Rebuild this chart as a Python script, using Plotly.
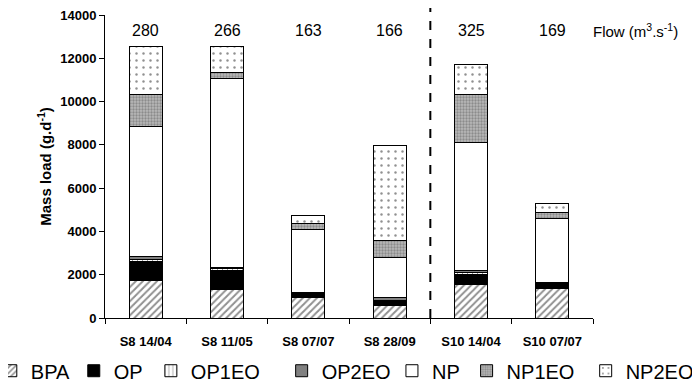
import plotly.graph_objects as go

categories = ["S8 14/04", "S8 11/05", "S8 07/07", "S8 28/09", "S10 14/04", "S10 07/07"]
BPA = [1750, 1335, 970, 575, 1545, 1350]
OP = [870, 880, 150, 170, 475, 260]
OP1EO = [80, 60, 30, 60, 100, 20]
OP2EO = [150, 60, 30, 120, 90, 20]
NP = [5990, 8720, 2900, 1880, 5915, 2965]
NP1EO = [1480, 305, 290, 775, 2200, 255]
NP2EO = [2215, 1170, 350, 4390, 1370, 430]
flow = [280, 266, 163, 166, 325, 169]
y_ticks = [0, 2000, 4000, 6000, 8000, 10000, 12000, 14000]
y_tick_labels = [str(v) for v in y_ticks]

FONT = "Liberation Sans, Arial, sans-serif"

series = [
    ("BPA", BPA, dict(color="white", pattern=dict(shape="/", fgcolor="#222222", bgcolor="white", size=5, solidity=0.4))),
    ("OP", OP, dict(color="black")),
    ("OP1EO", OP1EO, dict(color="white", pattern=dict(shape="|", fgcolor="#333333", bgcolor="white", size=5, solidity=0.2))),
    ("OP2EO", OP2EO, dict(color="#808080")),
    ("NP", NP, dict(color="white")),
    ("NP1EO", NP1EO, dict(color="#a0a0a0", pattern=dict(shape=".", fgcolor="#5e5e5e", bgcolor="#b8b8b8", size=3, solidity=0.45))),
    ("NP2EO", NP2EO, dict(color="white", pattern=dict(shape=".", fgcolor="#222222", bgcolor="white", size=7, solidity=0.1))),
]
# left edge of each legend entry, in paper fraction of the plot width
legend_x = [-0.234, -0.064, 0.094, 0.362, 0.588, 0.741, 0.985]

fig = go.Figure()
legend_layouts = {}
for i, (name, vals, mk) in enumerate(series):
    mk = dict(mk)
    mk["line"] = dict(color="black", width=1)
    lg = "legend" if i == 0 else f"legend{i + 1}"
    fig.add_trace(go.Bar(name=name, x=categories, y=vals, marker=mk, width=0.405, legend=lg))
    legend_layouts[lg] = dict(orientation="h", xref="paper", yref="paper",
                              x=legend_x[i], xanchor="left", y=-0.174, yanchor="middle",
                              font=dict(family=FONT, size=20, color="black"), itemwidth=30,
                              bgcolor="rgba(0,0,0,0)")

for c, f in zip(categories, flow):
    fig.add_annotation(x=c, y=13300, xref="x", yref="y", text=str(f), showarrow=False,
                       font=dict(family=FONT, size=16, color="black"))
fig.add_annotation(x=0.995, y=13300, xref="paper", yref="y", xanchor="left",
                   text="Flow (m<sup>3</sup>.s<sup>-1</sup>)", showarrow=False,
                   font=dict(family=FONT, size=15, color="black"))

fig.add_shape(type="line", xref="x", yref="paper", x0=3.5, x1=3.5, y0=0, y1=1.025,
              line=dict(color="black", width=2, dash="dash"))

# the page body has an 8px margin, so the figure is 8px smaller than the window
fig.update_layout(
    width=692, height=373,
    barmode="stack",
    plot_bgcolor="white", paper_bgcolor="white",
    margin=dict(l=97, r=107, t=7, b=63, autoexpand=False),
    font=dict(family=FONT, color="black"),
    showlegend=True,
    xaxis=dict(showline=True, linecolor="black", linewidth=1, ticks="outside", tickson="boundaries",
               ticklen=5, tickcolor="black", tickfont=dict(family=FONT, size=13, weight="bold"),
               ticklabelstandoff=11, showgrid=False),
    yaxis=dict(range=[0, 14000], tickvals=y_ticks, ticktext=y_tick_labels, showline=True,
               linecolor="black", linewidth=1, ticklabeloverflow="allow",
               ticks="outside", ticklen=5, tickcolor="black", showgrid=False, zeroline=False,
               tickfont=dict(family=FONT, size=13, weight="bold"),
               title=dict(text="<b>Mass load (g.d<sup>-1</sup>)</b>", font=dict(family=FONT, size=15), standoff=4)),
    **legend_layouts,
)

fig.write_html("out.html")
